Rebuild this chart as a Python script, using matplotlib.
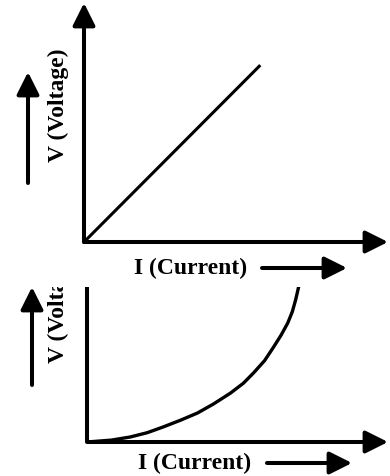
import matplotlib
matplotlib.use('Agg')
import matplotlib.pyplot as plt
from matplotlib.transforms import Bbox, TransformedBbox

# data (axis fractions, arrow tip = 1)
I_linear = [0.0, 0.58]
V_linear = [0.0, 0.74]

I_curve = [0.0, 0.08, 0.143, 0.2, 0.253, 0.31, 0.367, 0.42, 0.477,
           0.52, 0.553, 0.59, 0.62, 0.645, 0.667, 0.682, 0.693, 0.703, 0.713]
V_curve = [0.0, 0.012, 0.032, 0.06, 0.097, 0.14, 0.187, 0.245, 0.316,
           0.38, 0.445, 0.525, 0.613, 0.69, 0.768, 0.84, 0.916, 1.0, 1.11]

x_label = 'I (Current)'
y_label = 'V (Voltage)'

W, H = 390, 476
def fx(px):
    return px / W
def fy(py):
    return 1 - py / H

plt.rcParams['font.family'] = ['Liberation Serif', 'DejaVu Serif']
fig = plt.figure(figsize=(W / 100, H / 100), dpi=100)

arrow = dict(arrowstyle='-|>', lw=2.9, color='black', mutation_scale=34,
             shrinkA=0, shrinkB=0)
fsize = 17


def bare(ax):
    ax.set_xlim(0, 1)
    ax.set_ylim(0, 1)
    for s in ax.spines.values():
        s.set_visible(False)
    ax.set_xticks([])
    ax.set_yticks([])
    ax.patch.set_alpha(0)


# ---- top panel: ohmic (straight line)
ax1 = fig.add_axes([fx(84), fy(242), fx(388) - fx(84), fy(3) - fy(242)])
bare(ax1)
ax1.plot(I_linear, V_linear, color='black', lw=2.2, solid_capstyle='butt')
ax1.annotate('', xy=(1, 0), xytext=(0, 0), xycoords='axes fraction',
             arrowprops=arrow, annotation_clip=False)
ax1.annotate('', xy=(0, 1), xytext=(0, 0), xycoords='axes fraction',
             arrowprops=arrow, annotation_clip=False)

fig.text(fx(191), fy(268), x_label, ha='center', va='center',
         fontsize=fsize, fontweight='bold')
fig.text(fx(58), fy(105), y_label, ha='center', va='center', rotation=90,
         fontsize=fsize, fontweight='bold')
fig.add_artist(plt.Annotation('', xy=(fx(347), fy(268)), xytext=(fx(262), fy(268)),
                              xycoords='figure fraction', arrowprops=arrow))
fig.add_artist(plt.Annotation('', xy=(fx(28), fy(72)), xytext=(fx(28), fy(183)),
                              xycoords='figure fraction', arrowprops=arrow))

# ---- bottom panel: non-ohmic (curve), cropped at the top
ax2 = fig.add_axes([fx(87), fy(442), fx(388) - fx(87), fy(287) - fy(442)])
bare(ax2)
ax2.plot(I_curve, V_curve, color='black', lw=2.4)
ax2.plot([0, 0], [0, 1], color='black', lw=2.9, transform=ax2.transAxes,
         clip_on=False, solid_capstyle='butt')
ax2.annotate('', xy=(1, 0), xytext=(0, 0), xycoords='axes fraction',
             arrowprops=arrow, annotation_clip=False)

# the label is cut off by the top edge of the panel
crop = TransformedBbox(Bbox([[0, 0], [1, fy(287)]]), fig.transFigure)
t = fig.text(fx(58), fy(306), y_label, ha='center', va='center', rotation=90,
             fontsize=fsize, fontweight='bold')
t.set_clip_box(crop)
t.set_clip_on(True)
fig.text(fx(195), fy(463), x_label, ha='center', va='center',
         fontsize=fsize, fontweight='bold')
fig.add_artist(plt.Annotation('', xy=(fx(352), fy(463)), xytext=(fx(267), fy(463)),
                              xycoords='figure fraction', arrowprops=arrow))
fig.add_artist(plt.Annotation('', xy=(fx(32), fy(287)), xytext=(fx(32), fy(385)),
                              xycoords='figure fraction', arrowprops=arrow))

fig.savefig('out.png', dpi=100)
